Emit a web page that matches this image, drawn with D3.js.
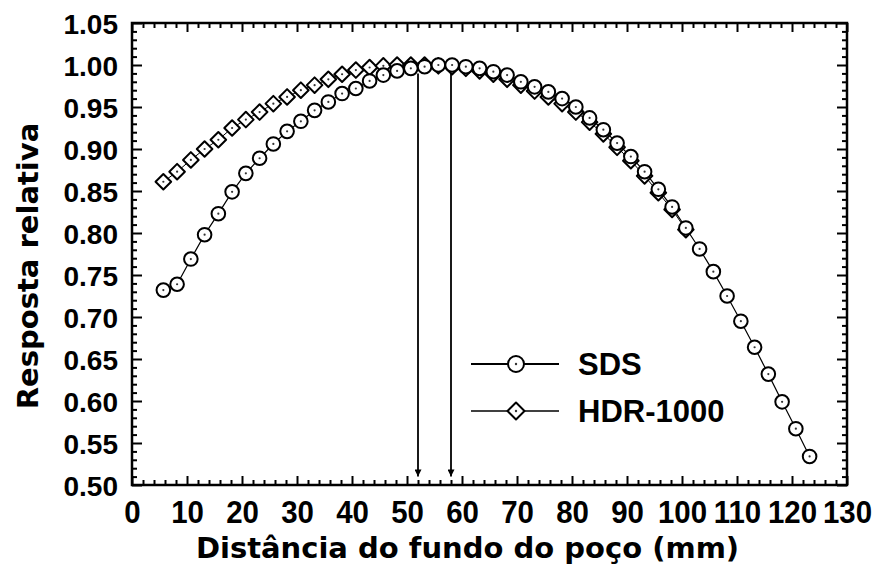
<!DOCTYPE html>
<html>
<head>
<meta charset="utf-8">
<script src="https://cdn.jsdelivr.net/npm/d3@7"></script>
<style>
  html, body { margin: 0; padding: 0; background: #fff; }
  svg { display: block; }
</style>
</head>
<body>
<svg id="chart" width="887" height="567"></svg>
<script>
// ---- data ----
const distance = [5.7, 8.2, 10.7, 13.2, 15.7, 18.2, 20.7, 23.2, 25.7, 28.2, 30.7, 33.2, 35.7, 38.2, 40.7, 43.2,
  45.7, 48.2, 50.7, 53.2, 55.7, 58.2, 60.7, 63.2, 65.7, 68.2, 70.7, 73.2, 75.7, 78.2, 80.7, 83.2,
  85.7, 88.2, 90.7, 93.2, 95.7, 98.2, 100.7, 103.2, 105.7, 108.2, 110.7, 113.2, 115.7, 118.2, 120.7, 123.2];
const sdsValues = [0.732, 0.739, 0.769, 0.798, 0.823, 0.849, 0.871, 0.889, 0.906, 0.921, 0.933, 0.946, 0.956, 0.966, 0.972, 0.981,
  0.988, 0.993, 0.996, 0.998, 1.000, 1.000, 0.998, 0.996, 0.992, 0.988, 0.980, 0.974, 0.968, 0.960, 0.950, 0.937,
  0.923, 0.907, 0.891, 0.873, 0.852, 0.831, 0.806, 0.781, 0.754, 0.725, 0.695, 0.664, 0.632, 0.599, 0.567, 0.534];
const hdrValues = [0.861, 0.873, 0.887, 0.900, 0.911, 0.925, 0.935, 0.944, 0.954, 0.962, 0.970, 0.976, 0.983, 0.989, 0.994, 0.997,
  0.999, 1.000, 1.000, 1.000, 0.999, 0.998, 0.996, 0.993, 0.989, 0.983, 0.976, 0.969, 0.962, 0.954, 0.944, 0.932,
  0.918, 0.902, 0.886, 0.868, 0.848, 0.828, 0.804];
const seriesNames = ["SDS", "HDR-1000"];
const arrowPositions = [52, 58];
const xTickValues = [0, 10, 20, 30, 40, 50, 60, 70, 80, 90, 100, 110, 120, 130];
const yTickValues = [0.50, 0.55, 0.60, 0.65, 0.70, 0.75, 0.80, 0.85, 0.90, 0.95, 1.00, 1.05];
const xTitle = "Distância do fundo do poço (mm)";
const yTitle = "Resposta relativa";

// ---- layout ----
const svg = d3.select("#chart");
const L = 132, R = 847, T = 23, B = 485;
const x = d3.scaleLinear().domain([0, 130]).range([L, R]);
const y = d3.scaleLinear().domain([0.50, 1.05]).range([B, T]);

const sds = distance.map((d, i) => ({ x: d, y: sdsValues[i] }));
const hdr = hdrValues.map((v, i) => ({ x: distance[i], y: v }));

const tickFont = "'Liberation Sans', Arial, Helvetica, sans-serif";
const titleFont = "'DejaVu Sans', Verdana, sans-serif";

// minor ticks
const xMinor = d3.range(0, 131, 2).filter(v => v % 10 !== 0);
const yMinor = d3.range(50, 106, 1).filter(v => v % 5 !== 0).map(v => v / 100);

function styleAxis(g) {
  g.select(".domain").remove();
  g.selectAll(".tick line").attr("stroke", "#000").attr("stroke-width", 2);
}

// bottom
svg.append("g").attr("transform", `translate(0,${B})`)
  .call(d3.axisBottom(x).tickValues(xMinor).tickSize(-5).tickFormat(""))
  .call(styleAxis);
svg.append("g").attr("transform", `translate(0,${B})`)
  .call(d3.axisBottom(x).tickValues(xTickValues).tickSize(-9).tickPadding(15).tickFormat(d3.format("d")))
  .call(styleAxis)
  .call(g => g.selectAll("text").attr("font-family", tickFont).attr("font-weight", "bold")
    .attr("font-size", 32).attr("fill", "#000").attr("dy", "0.71em")
    .attr("transform", "scale(0.92,1)")
    .attr("x", function () { return 0; }))
  .call(g => g.selectAll(".tick").each(function (d) {
    // keep scaled labels centred on their ticks
    d3.select(this).select("text").attr("transform", "scale(0.92,1)");
  }));
// top
svg.append("g").attr("transform", `translate(0,${T})`)
  .call(d3.axisTop(x).tickValues(xMinor).tickSize(-5).tickFormat(""))
  .call(styleAxis);
svg.append("g").attr("transform", `translate(0,${T})`)
  .call(d3.axisTop(x).tickValues(xTickValues).tickSize(-9).tickFormat(""))
  .call(styleAxis);
// left
svg.append("g").attr("transform", `translate(${L},0)`)
  .call(d3.axisLeft(y).tickValues(yMinor).tickSize(-5).tickFormat(""))
  .call(styleAxis);
svg.append("g").attr("transform", `translate(${L},0)`)
  .call(d3.axisLeft(y).tickValues(yTickValues).tickSize(-10).tickPadding(16).tickFormat(d3.format(".2f")))
  .call(styleAxis)
  .call(g => g.selectAll("text").attr("font-family", tickFont).attr("font-weight", "bold")
    .attr("font-size", 28).attr("fill", "#000").attr("x", -14).attr("dy", "0.36em"));
// right
svg.append("g").attr("transform", `translate(${R},0)`)
  .call(d3.axisRight(y).tickValues(yMinor).tickSize(-5).tickFormat(""))
  .call(styleAxis);
svg.append("g").attr("transform", `translate(${R},0)`)
  .call(d3.axisRight(y).tickValues(yTickValues).tickSize(-10).tickFormat(""))
  .call(styleAxis);

// frame
svg.append("rect").attr("x", L).attr("y", T).attr("width", R - L).attr("height", B - T)
  .attr("fill", "none").attr("stroke", "#000").attr("stroke-width", 2.5);

// arrows
const defs = svg.append("defs");
defs.append("marker").attr("id", "arrowhead").attr("viewBox", "0 0 10 10")
  .attr("refX", 10).attr("refY", 5).attr("markerWidth", 8).attr("markerHeight", 7)
  .attr("markerUnits", "userSpaceOnUse").attr("orient", "auto")
  .append("path").attr("d", "M0,0 L10,5 L0,10 Z").attr("fill", "#000");
svg.append("g").selectAll("line").data(arrowPositions).join("line")
  .attr("x1", d => x(d)).attr("x2", d => x(d))
  .attr("y1", y(0.99)).attr("y2", y(0.51))
  .attr("stroke", "#000").attr("stroke-width", 1.8)
  .attr("marker-end", "url(#arrowhead)");

// series
const line = d3.line().x(d => x(d.x)).y(d => y(d.y));
const diamond = r => `M0,${-r} L${r},0 L0,${r} L${-r},0 Z`;

function drawSeries(data, shape) {
  const g = svg.append("g");
  g.append("path").datum(data).attr("d", line).attr("fill", "none")
    .attr("stroke", "#000").attr("stroke-width", shape === "circle" ? 1.2 : 1);
  const pts = g.selectAll("g.pt").data(data).join("g").attr("class", "pt")
    .attr("transform", d => `translate(${x(d.x)},${y(d.y)})`);
  if (shape === "circle") {
    pts.append("circle").attr("r", 6.8).attr("fill", "#fff").attr("stroke", "#000").attr("stroke-width", 2);
  } else {
    pts.append("path").attr("d", diamond(7.8)).attr("fill", "#fff").attr("stroke", "#000")
      .attr("stroke-width", 2).attr("stroke-linejoin", "round");
  }
  pts.append("circle").attr("r", 1.1).attr("fill", "#333");
}
drawSeries(hdr, "diamond");
drawSeries(sds, "circle");

// legend
const legend = svg.append("g");
const legendRows = [{ name: seriesNames[0], shape: "circle", y: 364 }, { name: seriesNames[1], shape: "diamond", y: 411 }];
legendRows.forEach(r => {
  legend.append("line").attr("x1", 471).attr("x2", 559).attr("y1", r.y).attr("y2", r.y)
    .attr("stroke", "#000").attr("stroke-width", r.shape === "circle" ? 2 : 1.6);
  if (r.shape === "circle") {
    legend.append("circle").attr("cx", 516).attr("cy", r.y).attr("r", 8).attr("fill", "#fff")
      .attr("stroke", "#000").attr("stroke-width", 2);
  } else {
    legend.append("path").attr("transform", `translate(516,${r.y})`).attr("d", diamond(8.5))
      .attr("fill", "#fff").attr("stroke", "#000").attr("stroke-width", 2).attr("stroke-linejoin", "round");
  }
  legend.append("circle").attr("cx", 516).attr("cy", r.y).attr("r", 1.2).attr("fill", "#333");
  legend.append("text").attr("x", 578).attr("y", r.y).attr("dy", "0.36em")
    .attr("font-family", tickFont).attr("font-weight", "bold").attr("font-size", 31)
    .attr("fill", "#000").text(r.name);
});

// titles
svg.append("text").attr("x", (L + R) / 2 - 22).attr("y", 558)
  .attr("text-anchor", "middle").attr("font-family", titleFont).attr("font-weight", "bold")
  .attr("font-size", 29).attr("fill", "#000").text(xTitle);
svg.append("text").attr("transform", `translate(38,${(T + B) / 2 + 12}) rotate(-90)`)
  .attr("text-anchor", "middle").attr("font-family", titleFont).attr("font-weight", "bold")
  .attr("font-size", 29).attr("fill", "#000").text(yTitle);
</script>
</body>
</html>
